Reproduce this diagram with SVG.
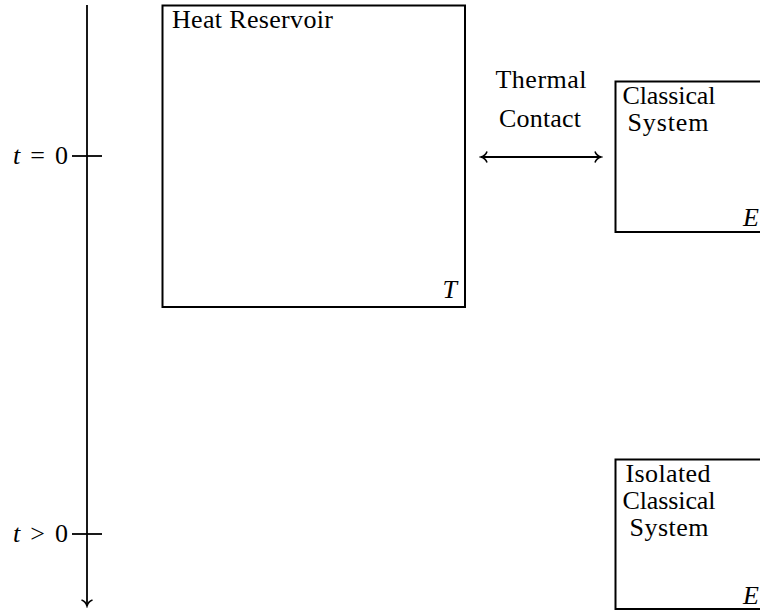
<svg xmlns="http://www.w3.org/2000/svg" width="760" height="612" viewBox="0 0 760 612">
<style>
.box{fill:none;stroke:#000;stroke-width:2}
.ln{fill:none;stroke:#000;stroke-width:1.8}
.it{font-style:italic}
.c{text-anchor:middle}
.e{text-anchor:end}
</style>
<defs>
<marker id="ah" viewBox="-8 -8 10 16" markerWidth="10" markerHeight="16" refX="0" refY="0" orient="auto-start-reverse" markerUnits="userSpaceOnUse">
<path d="M-6,-5.5 C-5,-2.4 -2,-0.6 0,0 C-2,0.6 -5,2.4 -6,5.5" fill="none" stroke="#000" stroke-width="1.6"/>
</marker>
</defs>
<rect width="760" height="612" fill="#fff"/>
<g font-family="'Liberation Serif', 'DejaVu Serif', 'Times New Roman', serif" font-size="26" fill="#000">
<g id="timeline">
<line class="ln" x1="87" y1="5" x2="87" y2="606" marker-end="url(#ah)"/>
<line class="ln" x1="72" y1="156" x2="102" y2="156"/>
<line class="ln" x1="72" y1="534" x2="102" y2="534"/>
<text x="13" y="164" textLength="55" lengthAdjust="spacing"><tspan class="it">t</tspan> = 0</text>
<text x="13" y="542" textLength="55" lengthAdjust="spacing"><tspan class="it">t</tspan> &gt; 0</text>
</g>
<g id="heat-reservoir">
<rect class="box" x="162.5" y="5.5" width="302.5" height="301.5"/>
<text x="172" y="28" textLength="161" lengthAdjust="spacing">Heat Reservoir</text>
<text x="457" y="298" class="e it">T</text>
</g>
<g id="classical-system">
<rect class="box" x="615.5" y="81.5" width="160" height="150.5"/>
<text x="669" y="104" class="c" textLength="93" lengthAdjust="spacing">Classical</text>
<text x="668" y="131" class="c" textLength="81" lengthAdjust="spacing">System</text>
<text x="743" y="226" class="it">E</text>
</g>
<g id="isolated-system">
<rect class="box" x="615.5" y="459.5" width="160" height="149.5"/>
<text x="668" y="482" class="c" textLength="85" lengthAdjust="spacing">Isolated</text>
<text x="669" y="509" class="c" textLength="93" lengthAdjust="spacing">Classical</text>
<text x="669" y="536" class="c" textLength="79" lengthAdjust="spacing">System</text>
<text x="743" y="604" class="it">E</text>
</g>
<g id="connectors">
<line class="ln" x1="481" y1="157" x2="601" y2="157" marker-start="url(#ah)" marker-end="url(#ah)"/>
<text x="541" y="88" class="c" textLength="91" lengthAdjust="spacing">Thermal</text>
<text x="540" y="127" class="c" textLength="82" lengthAdjust="spacing">Contact</text>
</g>
</g>
</svg>
